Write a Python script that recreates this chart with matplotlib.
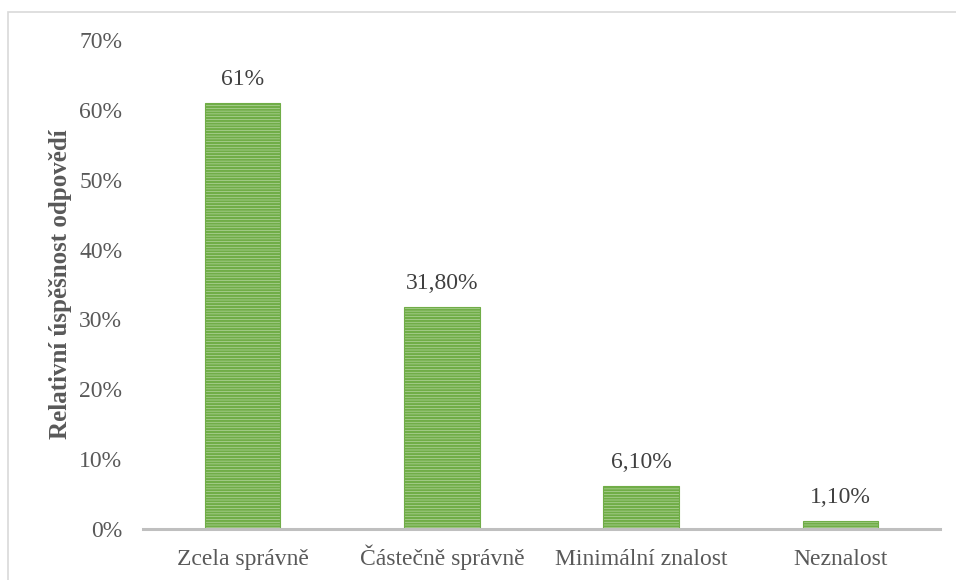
import matplotlib.pyplot as plt
from matplotlib.patches import Rectangle

categories = ['Zcela správně', 'Částečně správně', 'Minimální znalost', 'Neznalost']
values = [61.0, 31.8, 6.1, 1.1]
value_labels = ['61%', '31,80%', '6,10%', '1,10%']
yticks = [0, 10, 20, 30, 40, 50, 60, 70]

plt.rcParams['font.family'] = ['Liberation Serif', 'DejaVu Serif']
plt.rcParams['hatch.linewidth'] = 1.6
plt.rcParams['hatch.color'] = '#70ad47'

text_color = '#595959'

fig = plt.figure(figsize=(9.56, 5.8), dpi=100)
ax = fig.add_axes([143/956, 1 - 529/580, (940 - 143)/956, (529 - 40)/580])

# outer frame of the chart area
fig.patches.append(Rectangle((8/956, -0.05), 1.0, 1 - 12/580 + 0.05,
                             transform=fig.transFigure, fill=False,
                             edgecolor='#d9d9d9', linewidth=1.2))

x = range(len(categories))
bars = ax.bar(x, values, width=0.38, color='#c5e0b4', hatch='------',
              edgecolor='#70ad47', linewidth=0.8, zorder=2)

for b, lab in zip(bars, value_labels):
    ax.annotate(lab, (b.get_x() + b.get_width()/2, b.get_height()),
                xytext=(0, 13), textcoords='offset points',
                ha='center', va='baseline', fontsize=17, color='#404040')

ax.set_xlim(-0.5, len(categories) - 0.5)
ax.set_ylim(0, 70)
ax.set_yticks(yticks)
ax.set_yticklabels([f'{t}%' for t in yticks])
ax.set_xticks(list(x))
ax.set_xticklabels(categories, va='baseline')
ax.tick_params(axis='both', length=0, labelsize=17, labelcolor=text_color)
ax.tick_params(axis='y', pad=15)
ax.tick_params(axis='x', pad=26)

for s in ['top', 'right', 'left']:
    ax.spines[s].set_visible(False)
ax.spines['bottom'].set_color('#bfbfbf')
ax.spines['bottom'].set_linewidth(2.2)
ax.spines['bottom'].set_zorder(3)

ax.set_ylabel('Relativní úspěšnost odpovědí', fontsize=18, fontweight='bold',
              color=text_color, labelpad=5)

fig.savefig('out.png', dpi=100)
